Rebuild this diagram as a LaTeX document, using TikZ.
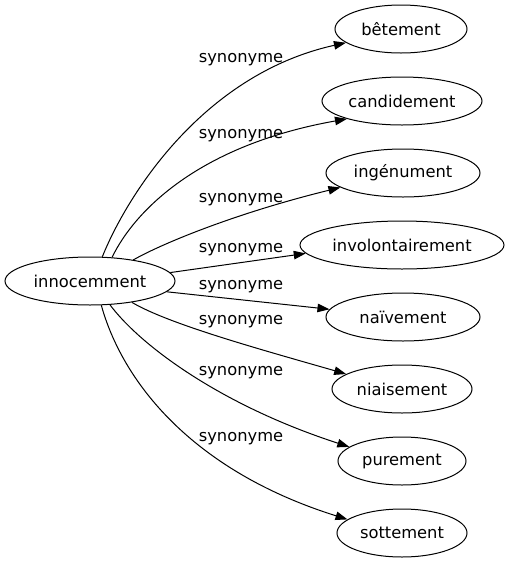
\documentclass[tikz,border=0pt]{standalone}
\usepackage{fontspec}
\setmainfont{DejaVu Sans}
\usetikzlibrary{arrows.meta,shapes.geometric}
\begin{document}
\begin{tikzpicture}[x=1pt,y=-1pt,
  word/.style={draw, ellipse, inner sep=0pt, minimum height=48pt, line width=1pt, font=\fontsize{16.3}{19}\selectfont},
  lab/.style={font=\fontsize{16.3}{19}\selectfont, inner sep=0pt},
  syn/.style={draw, line width=1pt, -{Triangle[length=12pt,width=8.5pt]}}]
\useasboundingbox (0,0) rectangle (510,563);
\node[word, minimum width=170pt] (src) at (90,281) {innocemment};
\node[word, minimum width=132pt] (t1) at (401,29) {bêtement};
\node[word, minimum width=160pt] (t2) at (402,101) {candidement};
\node[word, minimum width=154pt] (t3) at (403,173) {ingénument};
\node[word, minimum width=204pt] (t4) at (402,245) {involontairement};
\node[word, minimum width=154pt] (t5) at (403,317) {naïvement};
\node[word, minimum width=140pt] (t6) at (402,389) {niaisement};
\node[word, minimum width=128pt] (t7) at (402,461) {purement};
\node[word, minimum width=130pt] (t8) at (402,533) {sottement};

\path[syn] (src.63) .. controls (125,200) and (200,75) .. (t1.194.5);
\path[syn] (src.47.5) .. controls (135,210) and (200,145) .. (t2.198.4);
\path[syn] (src.26) .. controls (165,242) and (240,212) .. (t3.193.8);
\path[syn] (src.6.4) -- (t4.185.8);
\path[syn] (src.-8.7) -- (t5.174.5);
\path[syn] (src.-27.6) .. controls (170,325) and (270,352) .. (t6.165.7);
\path[syn] (src.-50) .. controls (140,345) and (220,405) .. (t7.165.5);
\path[syn] (src.-65) .. controls (122,380) and (190,470) .. (t8.166.7);

\node[lab] (l1) at (241,60) {synonyme};
\node[lab] (l2) at (241,136) {synonyme};
\node[lab] (l3) at (241,200) {synonyme};
\node[lab] (l4) at (241,250) {synonyme};
\node[lab] (l5) at (241,287) {synonyme};
\node[lab] (l6) at (241,322) {synonyme};
\node[lab] (l7) at (241,373) {synonyme};
\node[lab] (l8) at (241,439) {synonyme};
\end{tikzpicture}
\end{document}
